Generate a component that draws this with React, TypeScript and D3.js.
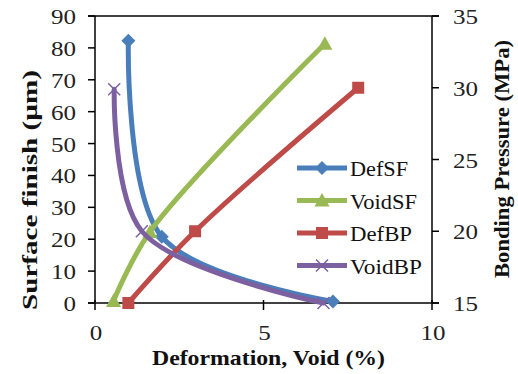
import React from "react";
import * as d3 from "d3";

const xTicks = [0, 5, 10];
const leftTicks = [0, 10, 20, 30, 40, 50, 60, 70, 80, 90];
const rightTicks = [15, 20, 25, 30, 35];

const defSF: [number, number][] = [[0.99, 82.2], [1.98, 20.8], [7.06, 0.5]];
const voidSF: [number, number][] = [[0.55, 0.6], [1.63, 22.3], [6.82, 81.3]];
const defBP: [number, number][] = [[0.99, 15], [2.97, 20], [7.81, 30]];
const voidBP: [number, number][] = [[0.57, 29.9], [1.39, 20], [6.78, 15]];

const seriesNames = ["DefSF", "VoidSF", "DefBP", "VoidBP"];
const colors = ["#4A7EBB", "#98B954", "#BE4B48", "#7D60A0"];

const W = 518, H = 374;
const L = 95, R = 432, T = 16, B = 303;
const FONT = '"Liberation Serif", "Times New Roman", "DejaVu Serif", serif';

export default function App() {
  const x = d3.scaleLinear().domain([0, 10]).range([L, R]);
  const yL = d3.scaleLinear().domain([0, 90]).range([B, T]);
  const yR = d3.scaleLinear().domain([15, 35]).range([B, T]);
  const series = [
    { data: defSF, y: yL, shape: "diamond" },
    { data: voidSF, y: yL, shape: "triangle" },
    { data: defBP, y: yR, shape: "square" },
    { data: voidBP, y: yR, shape: "x" },
  ];

  const marker = (shape: string, cx: number, cy: number, color: string, key: any) => {
    if (shape === "diamond") {
      const s = 7;
      return <path key={key} d={`M${cx},${cy - s}L${cx + s},${cy}L${cx},${cy + s}L${cx - s},${cy}Z`} fill={color} />;
    }
    if (shape === "triangle") {
      const s = 7.5;
      return <path key={key} d={`M${cx},${cy - s}L${cx + s},${cy + s * 0.8}L${cx - s},${cy + s * 0.8}Z`} fill={color} />;
    }
    if (shape === "square") {
      const s = 6;
      return <rect key={key} x={cx - s} y={cy - s} width={2 * s} height={2 * s} fill={color} />;
    }
    const s = 6;
    return (
      <path key={key} d={`M${cx - s},${cy - s}L${cx + s},${cy + s}M${cx - s},${cy + s}L${cx + s},${cy - s}`}
        stroke={color} strokeWidth={1.5} fill="none" />
    );
  };

  const legendY = [168, 200.5, 233, 265.5];
  const legendW = [58, 67, 62, 72];
  const ts = { fontFamily: FONT } as React.CSSProperties;
  const digitW = 12.5;

  return (
    <svg width={W} height={H} style={{ position: "absolute", left: 0, top: 0, background: "#fff", fontFamily: FONT }}>
      <rect x={0} y={0} width={W} height={H} fill="#fff" />
      <line x1={L - 7} x2={R + 7} y1={T} y2={T} stroke="#000" strokeWidth={1.5} />
      <line x1={L} x2={L} y1={T} y2={B} stroke="#000" strokeWidth={1.5} />
      <line x1={R} x2={R} y1={T} y2={B} stroke="#000" strokeWidth={1.5} />
      <line x1={L - 7} x2={R + 7} y1={B} y2={B} stroke="#000" strokeWidth={1.5} />
      {leftTicks.map((t) => (
        <g key={"l" + t}>
          <line x1={L - 7} x2={L} y1={yL(t)} y2={yL(t)} stroke="#000" strokeWidth={1.5} />
          <text style={ts} x={76} y={yL(t) + 8} fontSize={22} textAnchor="end" fill="#222"
            textLength={String(t).length * digitW} lengthAdjust="spacingAndGlyphs">{t}</text>
        </g>
      ))}
      {rightTicks.map((t) => (
        <g key={"r" + t}>
          <line x1={R} x2={R + 7} y1={yR(t)} y2={yR(t)} stroke="#000" strokeWidth={1.5} />
          <text style={ts} x={453} y={yR(t) + 8} fontSize={22} textAnchor="start" fill="#222"
            textLength={String(t).length * digitW} lengthAdjust="spacingAndGlyphs">{t}</text>
        </g>
      ))}
      {xTicks.map((t) => (
        <g key={"x" + t}>
          <line x1={x(t)} x2={x(t)} y1={B - 3} y2={B + 7} stroke="#000" strokeWidth={1.5} />
          <text style={ts} x={x(t) + 1} y={340} fontSize={22} textAnchor="middle" fill="#222"
            textLength={String(t).length * digitW} lengthAdjust="spacingAndGlyphs">{t}</text>
        </g>
      ))}
      {series.map((s, i) => {
        const line = d3.line<[number, number]>()
          .x((d) => x(d[0]))
          .y((d) => s.y(d[1]))
          .curve(d3.curveCatmullRom.alpha(0.5));
        return (
          <g key={"s" + i}>
            <path d={line(s.data) || ""} fill="none" stroke={colors[i]} strokeWidth={5} strokeLinejoin="round" strokeLinecap="round" />
            {s.data.map((d, j) => marker(s.shape, x(d[0]), s.y(d[1]), colors[i], j))}
          </g>
        );
      })}
      {seriesNames.map((n, i) => (
        <g key={"lg" + i}>
          <line x1={297} x2={347} y1={legendY[i]} y2={legendY[i]} stroke={colors[i]} strokeWidth={5} />
          {marker(series[i].shape, 322, legendY[i], colors[i], "m")}
          <text style={ts} x={350} y={legendY[i] + 8} fontSize={21.5} fill="#111"
            textLength={legendW[i]} lengthAdjust="spacingAndGlyphs">{n}</text>
        </g>
      ))}
      <text style={ts} x={268.5} y={365} fontSize={21} fontWeight="bold" textAnchor="middle" fill="#111"
        textLength={233} lengthAdjust="spacingAndGlyphs">Deformation, Void (%)</text>
      <text style={ts} transform={`translate(37,190) rotate(-90)`} fontSize={22} fontWeight="bold" textAnchor="middle" fill="#111"
        textLength={240} lengthAdjust="spacingAndGlyphs">Surface finish (µm)</text>
      <text style={ts} transform={`translate(509,159) rotate(-90)`} fontSize={22} fontWeight="bold" textAnchor="middle" fill="#111"
        textLength={238} lengthAdjust="spacingAndGlyphs">Bonding Pressure (MPa)</text>
    </svg>
  );
}
